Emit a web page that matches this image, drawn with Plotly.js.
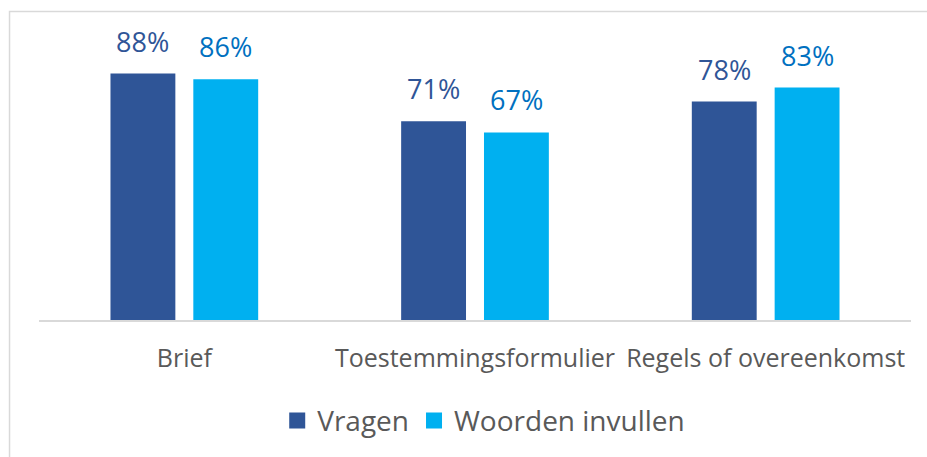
<!DOCTYPE html>
<html>
<head>
<meta charset="utf-8">
<script src="https://cdn.plot.ly/plotly-3.0.1.min.js"></script>
<style>html,body{margin:0;padding:0;background:#fff;}#chart{width:927px;height:457px;}</style>
</head>
<body>
<div id="chart"></div>
<script>
const categories = ["Brief", "Toestemmingsformulier", "Regels of overeenkomst"];
const vragen = [88, 71, 78];
const woordenInvullen = [86, 67, 83];
const seriesNames = ["Vragen", "Woorden invullen"];

const FONT = '"Open Sans", "Noto Sans", sans-serif';
const colV = '#2F5597', colW = '#00B0F0';
const lblV = '#2F5597', lblW = '#0070C0';

const traces = [
  {type: 'bar', name: seriesNames[0], x: categories, y: vragen, marker: {color: colV}, hoverinfo: 'none', showlegend: false},
  {type: 'bar', name: seriesNames[1], x: categories, y: woordenInvullen, marker: {color: colW}, hoverinfo: 'none', showlegend: false},
  {type: 'scatter', mode: 'markers', name: seriesNames[0], x: [null], y: [null], marker: {symbol: 'square', size: 17, color: colV}, hoverinfo: 'none'},
  {type: 'scatter', mode: 'markers', name: seriesNames[1], x: [null], y: [null], marker: {symbol: 'square', size: 17, color: colW}, hoverinfo: 'none'}
];

const annotations = [];
categories.forEach((c, i) => {
  annotations.push({x: c, y: vragen[i], xref: 'x', yref: 'y', text: vragen[i] + '%', showarrow: false,
    xshift: -41.5, yshift: 12, yanchor: 'bottom', font: {family: FONT, size: 27, color: lblV}});
  annotations.push({x: c, y: woordenInvullen[i], xref: 'x', yref: 'y', text: woordenInvullen[i] + '%', showarrow: false,
    xshift: 41.5, yshift: 12, yanchor: 'bottom', font: {family: FONT, size: 27, color: lblW}});
});

const layout = {
  width: 927, height: 457,
  margin: {l: 39, r: 16, t: 40, b: 136},
  paper_bgcolor: '#fff', plot_bgcolor: '#fff',
  font: {family: FONT, color: '#595959'},
  barmode: 'group', bargap: 0.43, bargroupgap: 0.217,
  xaxis: {showline: true, linecolor: '#d9d9d9', linewidth: 1.5, tickangle: 0, ticks: '',
    tickfont: {family: FONT, size: 25, color: '#595959'}, ticklabelstandoff: 15, showgrid: false, zeroline: false, fixedrange: true},
  yaxis: {range: [0, 100], visible: false, showgrid: false, zeroline: false, fixedrange: true},
  showlegend: true,
  legend: {orientation: 'h', x: 0.51, xanchor: 'center', y: -0.355, yanchor: 'middle',
    font: {family: FONT, size: 28, color: '#595959'}, itemclick: false, itemdoubleclick: false},
  annotations: annotations,
  shapes: [{type: 'rect', xref: 'paper', yref: 'paper', x0: -0.0338, x1: 1.1, y0: -0.6, y1: 1.1014,
    line: {color: '#d9d9d9', width: 1.5}, fillcolor: 'rgba(0,0,0,0)', layer: 'below'}]
};

Plotly.newPlot('chart', traces, layout, {displayModeBar: false, staticPlot: true});
</script>
</body>
</html>
